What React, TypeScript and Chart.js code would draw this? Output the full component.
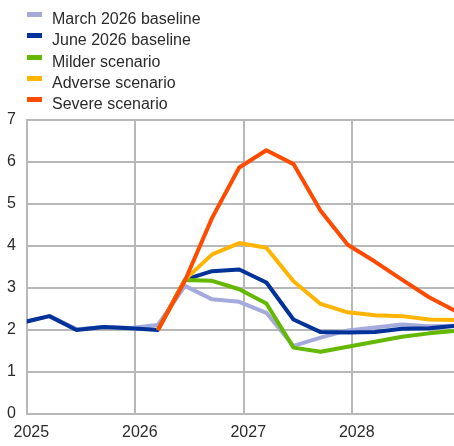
import React, { useEffect, useRef } from "react";
import { Chart, registerables } from "chart.js";

Chart.register(...registerables);

// Quarterly observations (mid-month of quarter-end month)
const periods = [
  "2024-12", "2025-03", "2025-06", "2025-09", "2025-12",
  "2026-03", "2026-06", "2026-09", "2026-12",
  "2027-03", "2027-06", "2027-09", "2027-12",
  "2028-03", "2028-06", "2028-09", "2028-12",
];

const seriesNames = [
  "March 2026 baseline",
  "June 2026 baseline",
  "Milder scenario",
  "Adverse scenario",
  "Severe scenario",
];

const march2026Baseline = [2.18, 2.33, 2.02, 2.07, 2.05, 2.12, 3.05, 2.73, 2.67, 2.41, 1.62, 1.82, 1.99, 2.06, 2.13, 2.09, 2.1];
const june2026Baseline = [2.18, 2.33, 2.0, 2.07, 2.04, 2.0, 3.2, 3.4, 3.44, 3.13, 2.25, 1.95, 1.94, 1.95, 2.03, 2.04, 2.1];
const milderScenario = [null, null, null, null, null, 2.0, 3.19, 3.17, 2.97, 2.63, 1.58, 1.48, 1.6, 1.72, 1.84, 1.92, 1.98];
const adverseScenario = [null, null, null, null, null, 2.0, 3.2, 3.8, 4.07, 3.96, 3.16, 2.62, 2.42, 2.35, 2.33, 2.25, 2.24];
const severeScenario = [null, null, null, null, null, 2.0, 3.18, 4.67, 5.87, 6.28, 5.95, 4.84, 4.03, 3.63, 3.2, 2.78, 2.44];

const seriesColors = ["#a4aadb", "#003299", "#65b800", "#ffb400", "#ff4b00"];
const yearTicks = [2025, 2026, 2027, 2028];
const yTicks = [0, 1, 2, 3, 4, 5, 6, 7];

const FONT_FAMILY = "'Liberation Sans', Arial, sans-serif";
const TEXT_COLOR = "#2b2b2b";
const GRID_COLOR = "#b8b8b8";

function toYear(p: string): number {
  const [y, m] = p.split("-").map(Number);
  return y + (m - 0.5) / 12;
}

const allSeries = [march2026Baseline, june2026Baseline, milderScenario, adverseScenario, severeScenario];

const legendPlugin = {
  id: "stackedLegend",
  afterDraw(chart: any) {
    const ctx = chart.ctx as CanvasRenderingContext2D;
    ctx.save();
    ctx.font = `16px ${FONT_FAMILY}`;
    ctx.textAlign = "left";
    ctx.textBaseline = "alphabetic";
    seriesNames.forEach((name, i) => {
      const base = Math.round(24 + i * 21.3);
      ctx.fillStyle = seriesColors[i];
      ctx.fillRect(27, base - 12, 15, 5);
      ctx.fillStyle = TEXT_COLOR;
      ctx.fillText(name, 52, base);
    });
    ctx.restore();
  },
};

export default function App() {
  const canvasRef = useRef<HTMLCanvasElement | null>(null);

  useEffect(() => {
    document.body.style.margin = "0";
    const canvas = canvasRef.current;
    if (!canvas) return;
    const xs = periods.map(toYear);
    const datasets = allSeries.map((vals, i) => ({
      label: seriesNames[i],
      data: vals.map((v, j) => ({ x: xs[j], y: v })),
      borderColor: seriesColors[i],
      backgroundColor: seriesColors[i],
      borderWidth: 4,
      pointRadius: 0,
      pointHoverRadius: 0,
      tension: 0,
      fill: false,
      spanGaps: false,
      borderJoinStyle: "round" as const,
      clip: 0,
      order: 5 - i,
    }));

    const chart = new Chart(canvas, {
      type: "line",
      data: { datasets },
      plugins: [legendPlugin],
      options: {
        animation: false,
        responsive: false,
        devicePixelRatio: 1,
        layout: { padding: { top: 120, left: 0, right: 0, bottom: 0 } },
        plugins: {
          legend: { display: false },
          tooltip: { enabled: false },
        },
        scales: {
          x: {
            type: "linear",
            min: 2025,
            max: 2028.938,
            afterBuildTicks: (s: any) => {
              s.ticks = yearTicks.map((v) => ({ value: v }));
            },
            afterFit: (s: any) => {
              s.height = 32;
            },
            ticks: {
              padding: 9,
              labelOffset: 4.5,
              color: TEXT_COLOR,
              font: { size: 16, family: FONT_FAMILY },
              maxRotation: 0,
              callback: (v: any) => String(v),
            },
            grid: { color: GRID_COLOR, lineWidth: 2, drawTicks: false },
            border: { display: false },
          },
          y: {
            type: "linear",
            min: 0,
            max: 7,
            afterBuildTicks: (s: any) => {
              s.ticks = yTicks.map((v) => ({ value: v }));
            },
            afterFit: (s: any) => {
              s.width = 26;
            },
            ticks: {
              padding: 11,
              color: TEXT_COLOR,
              font: { size: 16, family: FONT_FAMILY },
              callback: (v: any) => String(v),
            },
            grid: { color: GRID_COLOR, lineWidth: 2, drawTicks: false },
            border: { display: true, color: GRID_COLOR, width: 2 },
          },
        },
      },
    });
    return () => chart.destroy();
  }, []);

  return (
    <div style={{ width: 454, height: 446 }}>
      <canvas ref={canvasRef} width={454} height={446} style={{ display: "block" }} />
    </div>
  );
}
